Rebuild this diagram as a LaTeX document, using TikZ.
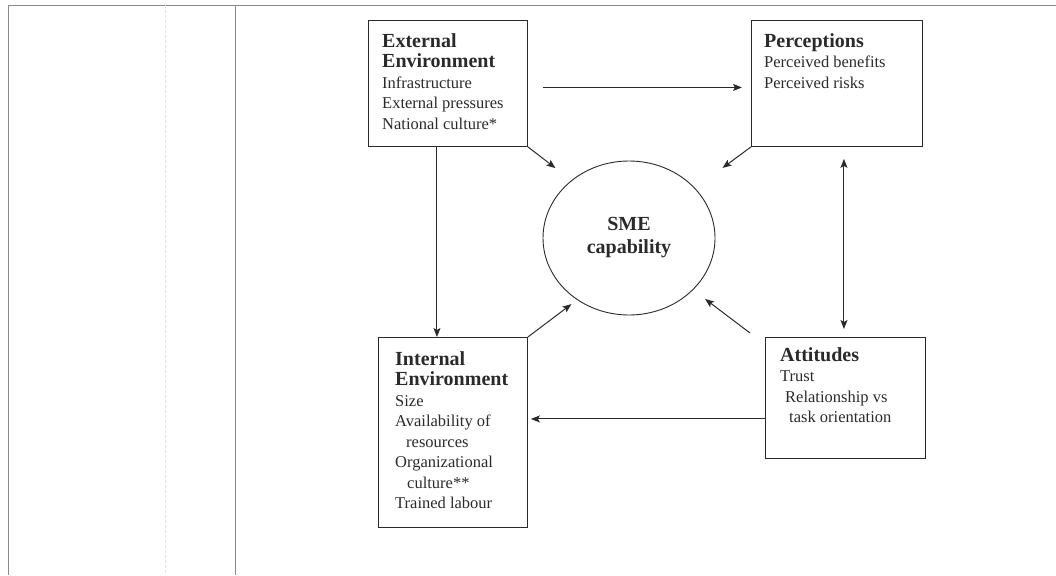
\documentclass[tikz,border=0pt]{standalone}
\usepackage{fontspec}
\setmainfont{Liberation Serif}
\usetikzlibrary{arrows.meta,positioning,shapes.geometric}
\definecolor{ScanInk}{HTML}{2A2A2A}
\definecolor{RuleGray}{HTML}{8A8A8A}

\begin{document}
\begin{tikzpicture}[x=1pt,y=-1pt,
    frame/.style={draw=ScanInk,line width=0.9pt,anchor=north west,inner sep=0pt},
    itemtext/.style={anchor=north west,align=left,inner sep=0pt,text=ScanInk,
      font=\fontsize{16.5}{20.5}\selectfont},
    hub/.style={ellipse,draw=ScanInk,line width=0.9pt,minimum width=172pt,minimum height=154pt,
      align=center,text=ScanInk,font=\fontsize{20}{23}\selectfont\bfseries},
    flow/.style={draw=ScanInk,line width=1pt,-{Stealth[length=9pt,width=7pt,inset=2pt]}},
  ]
  \newcommand{\hd}[1]{{\fontsize{20}{20.5}\selectfont\bfseries #1}}
  \useasboundingbox (0,0) rectangle (1056,575);
  % scanned page rules
  \draw[RuleGray,line width=0.8pt] (8,575) -- (8,5) -- (1056,5);
  \draw[RuleGray,line width=0.8pt] (235,5) -- (235,575);
  \draw[RuleGray!25,line width=0.6pt,dash pattern=on 3pt off 2pt] (165,5) -- (165,575);

  % boxes
  \node[frame,minimum width=159pt,minimum height=126pt] (ext) at (368,20) {};
  \node[frame,minimum width=171pt,minimum height=126pt] (perc) at (751,20) {};
  \node[frame,minimum width=149pt,minimum height=190pt] (int) at (378,337) {};
  \node[frame,minimum width=160pt,minimum height=121pt] (att) at (765,337) {};
  \node[hub] (sme) at (629,238) {SME\\capability};

  \node[itemtext] (exttxt) at ([xshift=14pt,yshift=-13pt]ext.north west)
    {\hd{External}\\\hd{Environment}\\Infrastructure\\External pressures\\National culture*};
  \node[itemtext] (perctxt) at ([xshift=13pt,yshift=-13pt]perc.north west)
    {\hd{Perceptions}\\Perceived benefits\\Perceived risks};
  \node[itemtext] (inttxt) at ([xshift=17pt,yshift=-14pt]int.north west)
    {\hd{Internal}\\\hd{Environment}\\Size\\Availability of\\\hspace*{11pt}resources\\
     Organizational\\\hspace*{12pt}culture**\\Trained labour};
  \node[itemtext] (atttxt) at ([xshift=15pt,yshift=-10pt]att.north west)
    {\hd{Attitudes}\\Trust\\\hspace*{5pt}Relationship vs\\\hspace*{9pt}task orientation};

  % connectors
  \draw[flow] ([xshift=15pt,yshift=-4pt]ext.east) -- ([xshift=-9pt,yshift=-4pt]perc.west);
  \draw[flow,shorten >=20pt] (ext.south east) -- (sme.135);
  \draw[flow,shorten >=34pt] (perc.south west) -- (sme.37);
  \draw[flow] ([xshift=-11pt]ext.south) -- ([xshift=-11pt]ext.south |- int.north);
  \draw[flow,shorten >=7pt] (int.north east) -- (sme.230);
  \draw[flow,shorten >=15pt] ([xshift=-15pt,yshift=4pt]att.north west) -- (sme.-39);
  \draw[flow,{Stealth[length=9pt,width=7pt,inset=2pt]}-{Stealth[length=9pt,width=7pt,inset=2pt]},
    shorten <=12pt,shorten >=8pt] ([xshift=7pt]perc.south) -- ([xshift=7pt]perc.south |- att.north);
  \draw[flow,shorten >=3pt] ([yshift=-21pt]att.west) -- ([yshift=-21pt]att.west -| int.east);
\end{tikzpicture}
\end{document}
